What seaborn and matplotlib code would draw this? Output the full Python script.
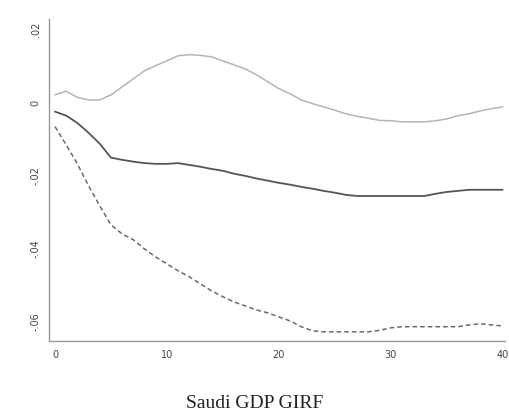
import numpy as np
import pandas as pd
import seaborn as sns
import matplotlib.pyplot as plt

# horizon and GIRF bands
horizon = list(range(41))
upper = [0.0019, 0.0029, 0.0012, 0.0005, 0.0005, 0.0019, 0.0041, 0.0063, 0.0085, 0.0099,
         0.0112, 0.0126, 0.0129, 0.0127, 0.0123, 0.0112, 0.0101, 0.0090, 0.0074, 0.0055,
         0.0036, 0.0022, 0.0005, -0.0005, -0.0014, -0.0023, -0.0033, -0.0040, -0.0045, -0.0051,
         -0.0052, -0.0055, -0.0055, -0.0055, -0.0052, -0.0047, -0.0038, -0.0033, -0.0025, -0.0019,
         -0.0014]
girf = [-0.0027, -0.0038, -0.0058, -0.0085, -0.0115, -0.0153, -0.0159, -0.0164, -0.0168, -0.0170,
        -0.0170, -0.0168, -0.0173, -0.0178, -0.0184, -0.0189, -0.0197, -0.0203, -0.0210, -0.0216,
        -0.0222, -0.0227, -0.0233, -0.0238, -0.0244, -0.0249, -0.0255, -0.0258, -0.0258, -0.0258,
        -0.0258, -0.0258, -0.0258, -0.0258, -0.0252, -0.0247, -0.0244, -0.0241, -0.0241, -0.0241,
        -0.0241]
lower = [-0.0068, -0.0118, -0.0170, -0.0230, -0.0285, -0.0337, -0.0362, -0.0378, -0.0403, -0.0425,
         -0.0444, -0.0463, -0.0479, -0.0499, -0.0518, -0.0534, -0.0548, -0.0559, -0.0570, -0.0578,
         -0.0589, -0.0600, -0.0616, -0.0627, -0.0630, -0.0630, -0.0630, -0.0630, -0.0630, -0.0626,
         -0.0619, -0.0616, -0.0616, -0.0616, -0.0616, -0.0616, -0.0616, -0.0611, -0.0608, -0.0611,
         -0.0614]
xticks = [0, 10, 20, 30, 40]
yticks = [0.02, 0.0, -0.02, -0.04, -0.06]
ytick_labels = [".02", "0", "-.02", "-.04", "-.06"]

df = pd.DataFrame({"h": horizon, "upper": upper, "girf": girf, "lower": lower})

sns.set_style("white")
fig = plt.figure(figsize=(5.1, 4.14), dpi=100)
ax = fig.add_axes([0.096, 0.174, 0.894, 0.778])

sns.lineplot(data=df, x="h", y="upper", ax=ax, color="#b4b4b4", linewidth=1.1)
sns.lineplot(data=df, x="h", y="girf", ax=ax, color="#555555", linewidth=1.3)
sns.lineplot(data=df, x="h", y="lower", ax=ax, color="#6a6a6a", linewidth=1.1, linestyle=(0, (3, 2)))

ax.set_xlim(-0.54, 40.2)
ax.set_ylim(-0.0655, 0.0227)
ax.set_xticks(xticks)
ax.set_xticklabels([str(x) for x in xticks])
ax.set_yticks(yticks)
ax.set_yticklabels(ytick_labels, rotation=90, va="center")
ax.set_xlabel("")
ax.set_ylabel("")

for s in ["top", "right"]:
    ax.spines[s].set_visible(False)
for s in ["left", "bottom"]:
    ax.spines[s].set_color("#999999")
    ax.spines[s].set_linewidth(1.0)
ax.tick_params(axis="both", length=3, width=0.8, color="#999999", labelsize=7, labelcolor="#444444", pad=3)

fig.text(0.5, 0.026, "Saudi GDP GIRF", ha="center", va="center", fontsize=14, family="Liberation Serif", color="#222222")

fig.savefig("out.png", dpi=100, facecolor="white")
